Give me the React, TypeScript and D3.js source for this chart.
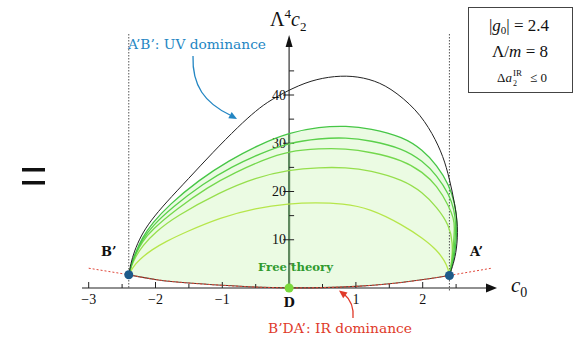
import React from "react";
import * as d3 from "d3";

// Axis ticks
const xMajor = [-3, -2, -1, 1, 2];
const xMinor = [-2.5, -1.5, -0.5, 0.5, 1.5, 2.5];
const yMajor = [10, 20, 30, 40];
const yMinor = [5, 15, 25, 35, 45];

// Outer (UV) boundary A'B'
const outerC0 = [-2.4, -2.37, -2.32, -2.22, -2.07, -1.85, -1.51, -1.15, -0.75, -0.5, -0.28, 0.16, 0.5, 0.86, 1.2, 1.51, 1.91, 2.15, 2.31, 2.4, 2.48, 2.53, 2.51, 2.46, 2.4];
const outerC2 = [2.7, 5.1, 7.5, 10.8, 14.0, 17.6, 22.6, 28.0, 33.6, 36.7, 39.0, 42.2, 43.6, 44.1, 43.4, 41.6, 37.0, 32.0, 27.2, 22.7, 17.5, 12.7, 8.0, 5.0, 2.6];

// Green family of bounds (top to bottom)
const g1C0 = [-2.4, -2.36, -2.3, -2.2, -2.05, -1.8, -1.35, -0.9, -0.45, 0, 0.45, 0.86, 1.21, 1.71, 2.0, 2.21, 2.4, 2.48, 2.52, 2.5, 2.46, 2.4];
const g1C2 = [2.7, 5.0, 7.3, 10.4, 13.4, 17.2, 22.4, 26.4, 29.7, 32.2, 33.4, 33.6, 33.1, 31.3, 28.6, 25.5, 21.3, 17.5, 14.0, 9.0, 5.5, 2.6];
const g2C0 = [-2.4, -2.36, -2.3, -2.2, -2.05, -1.75, -1.29, -0.85, -0.43, 0, 0.45, 0.85, 1.21, 1.71, 2.0, 2.21, 2.4, 2.47, 2.5, 2.48, 2.45, 2.4];
const g2C2 = [2.7, 4.9, 7.1, 10.0, 12.8, 16.7, 21.6, 25.2, 27.9, 30.1, 31.0, 31.2, 30.6, 28.9, 26.3, 23.4, 19.3, 16.2, 13.4, 9.0, 5.5, 2.6];
const g3C0 = [-2.4, -2.36, -2.3, -2.2, -2.05, -1.7, -1.21, -0.8, -0.4, 0, 0.45, 0.85, 1.21, 1.71, 2.0, 2.21, 2.4, 2.46, 2.48, 2.46, 2.44, 2.4];
const g3C2 = [2.7, 4.8, 6.9, 9.6, 12.1, 16.2, 21.0, 24.0, 26.5, 28.4, 28.9, 28.9, 28.2, 26.5, 24.0, 21.3, 16.8, 14.5, 12.7, 9.0, 5.5, 2.6];
const g4C0 = [-2.4, -2.36, -2.3, -2.2, -2.0, -1.7, -1.03, -0.5, 0, 0.45, 0.85, 1.21, 1.71, 2.0, 2.21, 2.4, 2.45, 2.44, 2.4];
const g4C2 = [2.7, 4.6, 6.4, 8.7, 11.6, 14.8, 19.9, 22.9, 24.5, 25.0, 25.0, 24.4, 22.4, 19.8, 16.8, 13.0, 9.2, 6.0, 2.6];
const g5C0 = [-2.4, -2.34, -2.25, -2.05, -1.85, -1.55, -1.03, -0.5, 0, 0.4, 0.8, 1.21, 1.71, 2.0, 2.21, 2.33, 2.38, 2.4];
const g5C2 = [2.7, 4.3, 5.8, 8.0, 9.6, 11.6, 14.6, 16.6, 17.5, 17.7, 17.5, 16.5, 13.0, 10.3, 7.9, 5.6, 4.0, 2.6];
const greenColors = ["#46c646", "#5ad04a", "#74d84c", "#96df4c", "#b6e64a"];

// Lower (IR) boundary B'DA' and its continuation
const lowerC0 = [-2.4, -2.0, -1.5, -1.0, -0.5, 0, 0.5, 1.0, 1.5, 2.0, 2.4];
const lowerC2 = [2.75, 1.65, 1.0, 0.55, 0.15, 0, 0.05, 0.3, 0.8, 1.7, 2.6];
const leftExtC0 = [-3.0, -2.4];
const leftExtC2 = [4.1, 2.75];
const rightExtC0 = [2.4, 3.03];
const rightExtC2 = [2.6, 4.1];

// Marked points
const pointB = [-2.4, 2.75];
const pointA = [2.4, 2.6];
const pointD = [0, 0];
const cutC0 = [-2.4, 2.4];

const zip = (a: number[], b: number[]) => a.map((v, i) => [v, b[i]] as [number, number]);

const x = d3.scaleLinear().domain([-3, 3]).range([88.7, 489.5]);
const y = d3.scaleLinear().domain([0, 40]).range([288, 95]);

// smooth B-spline through the sampled boundary points
const line = d3
  .line<[number, number]>()
  .x((d) => x(d[0]))
  .y((d) => y(d[1]))
  .curve(d3.curveBasis);

const straight = d3
  .line<[number, number]>()
  .x((d) => x(d[0]))
  .y((d) => y(d[1]));

function arrowHead(tip: [number, number], dir: [number, number], len = 8, half = 3.5) {
  const l = Math.hypot(dir[0], dir[1]);
  const ux = dir[0] / l;
  const uy = dir[1] / l;
  const bx = tip[0] - ux * len;
  const by = tip[1] - uy * len;
  return `M${tip[0]},${tip[1]}L${bx - uy * half},${by + ux * half}L${bx + uy * half},${by - ux * half}Z`;
}

const serif = { fontFamily: "'Liberation Serif', 'Times New Roman', Times, serif" };
const slab = { fontFamily: "'DejaVu Serif', serif" };

export default function App() {
  const greens = [zip(g1C0, g1C2), zip(g2C0, g2C2), zip(g3C0, g3C2), zip(g4C0, g4C2), zip(g5C0, g5C2)];
  const lower = zip(lowerC0, lowerC2);
  const fillPath =
    (line(greens[0]) as string) +
    (line([...lower].reverse()) as string).replace(/^M/, "L") +
    "Z";
  const x0 = x(0);
  const y0 = y(0);

  return (
    <svg width={574} height={337} style={{ position: "absolute", left: 0, top: 0, background: "#fff" }}>
      <defs>
        <clipPath id="regionClip">
          <path d={fillPath} />
        </clipPath>
      </defs>

      {/* equals sign */}
      <rect x={22} y={168} width={23} height={3.5} fill="#111" />
      <rect x={22} y={181} width={23} height={3.5} fill="#111" />

      {/* allowed region */}
      <path d={fillPath} fill="#ebfbe3" />

      {/* vertical cut lines at |c0| = |g0| */}
      {cutC0.map((c, i) => (
        <line key={i} x1={x(c)} x2={x(c)} y1={34} y2={i === 0 ? y0 : y0 + 4} stroke="#555" strokeWidth={1} strokeDasharray="1.5,1.5" />
      ))}

      {/* axes */}
      <line x1={82} x2={488} y1={y0} y2={y0} stroke="#222" strokeWidth={1.2} />
      <path d={arrowHead([497, y0], [1, 0], 11, 4.5)} fill="#111" />
      <line x1={x0} x2={x0} y1={y0} y2={46} stroke="#333" strokeWidth={1.2} />
      <path d={arrowHead([x0, 35], [0, -1], 12, 3.5)} fill="#111" />
      <line x1={x0} x2={x0} y1={y0} y2={40} stroke="#5f8a5f" strokeWidth={2.2} clipPath="url(#regionClip)" />

      {xMajor.map((t) => (
        <g key={"xm" + t}>
          <line x1={x(t)} x2={x(t)} y1={y0} y2={y0 - 6} stroke="#222" />
          <text x={x(t)} y={304} textAnchor="middle" style={serif} fontSize={14} fill="#111">
            {t < 0 ? "\u2212" + Math.abs(t) : String(t)}
          </text>
        </g>
      ))}
      {xMinor.map((t) => (
        <line key={"xn" + t} x1={x(t)} x2={x(t)} y1={y0} y2={y0 - 4} stroke="#222" />
      ))}
      {yMajor.map((t) => (
        <g key={"ym" + t}>
          <line x1={x0 - 6} x2={x0 + 5} y1={y(t)} y2={y(t)} stroke="#222" />
          <text x={x0 - 3} y={y(t) + 4.5} textAnchor="end" style={serif} fontSize={14} fill="#111">
            {t}
          </text>
        </g>
      ))}
      {yMinor.map((t) => (
        <line key={"yn" + t} x1={x0} x2={x0 + 5} y1={y(t)} y2={y(t)} stroke="#222" />
      ))}

      {/* axis titles */}
      <text x={270} y={26} style={serif} fontSize={20} fill="#111">
        Λ<tspan fontSize={13} dy={-8}>4</tspan>
        <tspan fontStyle="italic" fontSize={20} dy={8}>c</tspan>
        <tspan fontSize={13} dy={5}>2</tspan>
      </text>
      <text x={511} y={292} style={serif} fontSize={21} fill="#111">
        <tspan fontStyle="italic">c</tspan>
        <tspan fontSize={14} dy={5}>0</tspan>
      </text>

      {/* green bounds */}
      {greens
        .slice()
        .reverse()
        .map((g, i) => (
          <path key={i} d={line(g) as string} fill="none" stroke={greenColors[4 - i]} strokeWidth={1.3} />
        ))}

      {/* outer UV boundary */}
      <path d={line(zip(outerC0, outerC2)) as string} fill="none" stroke="#222" strokeWidth={1} />

      {/* IR boundary and its extension */}
      <path d={line(lower) as string} fill="none" stroke="#5a3a2a" strokeWidth={1.1} />
      <path d={line(lower) as string} fill="none" stroke="#e0473a" strokeWidth={1} strokeDasharray="2,2" />
      <path d={straight(zip(leftExtC0, leftExtC2)) as string} fill="none" stroke="#e0473a" strokeWidth={1} strokeDasharray="2,2" />
      <path d={straight(zip(rightExtC0, rightExtC2)) as string} fill="none" stroke="#e0473a" strokeWidth={1} strokeDasharray="2,2" />

      {/* points */}
      <circle cx={x(pointB[0])} cy={y(pointB[1])} r={4.5} fill="#1d5a8a" />
      <circle cx={x(pointA[0])} cy={y(pointA[1])} r={4.5} fill="#1d5a8a" />
      <circle cx={x(pointD[0])} cy={y(pointD[1])} r={4.5} fill="#7ada3c" />

      {/* point labels */}
      <text x={101} y={256} style={slab} fontWeight="bold" fontSize={13} fill="#111">B’</text>
      <text x={470} y={256} style={slab} fontWeight="bold" fontSize={13} fill="#111">A’</text>
      <text x={x0} y={307} textAnchor="middle" style={slab} fontWeight="bold" fontSize={13} fill="#111">D</text>
      <text x={258} y={271} style={slab} fontWeight="bold" fontSize={11.5} fill="#2f9a2f" textLength={75} lengthAdjust="spacingAndGlyphs">
        Free theory
      </text>

      {/* annotations */}
      <text x={128} y={49} style={slab} fontSize={13} fill="#2386c3" textLength={138} lengthAdjust="spacingAndGlyphs">
        A’B’: UV dominance
      </text>
      <path d="M193,56 C192,86 205,103 230,115" fill="none" stroke="#2386c3" strokeWidth={1.3} />
      <path d={arrowHead([237, 119], [2.2, 1.2], 8, 3.5)} fill="#2386c3" />

      <text x={268} y={333} style={slab} fontSize={13} fill="#e03a2a" textLength={144} lengthAdjust="spacingAndGlyphs">
        B’DA’: IR dominance
      </text>
      <path d="M353,318 C354,306 350,299 344,294" fill="none" stroke="#e03a2a" strokeWidth={1.3} />
      <path d={arrowHead([339, 290.5], [-1.3, -1], 8, 3.5)} fill="#e03a2a" />

      {/* parameter box */}
      <rect x={468.5} y={7.5} width={104} height={85} fill="#fff" stroke="#444" strokeWidth={1} />
      <text x={519} y={31} textAnchor="middle" style={serif} fontSize={17} fill="#111">
        |<tspan fontStyle="italic">g</tspan>
        <tspan fontSize={11} dy={3}>0</tspan>
        <tspan dy={-3}>| = 2.4</tspan>
      </text>
      <text x={520} y={56.5} textAnchor="middle" style={serif} fontSize={17} fill="#111">
        Λ/<tspan fontStyle="italic">m</tspan> = 8
      </text>
      <text x={497} y={82} style={serif} fontSize={13} fill="#111">
        Δ<tspan fontStyle="italic">a</tspan>
      </text>
      <text x={513} y={85.5} style={serif} fontSize={8} fill="#111">2</text>
      <text x={513} y={76} style={serif} fontSize={9} fill="#111">IR</text>
      <text x={530} y={82} style={serif} fontSize={13} fill="#111">≤ 0</text>
    </svg>
  );
}
